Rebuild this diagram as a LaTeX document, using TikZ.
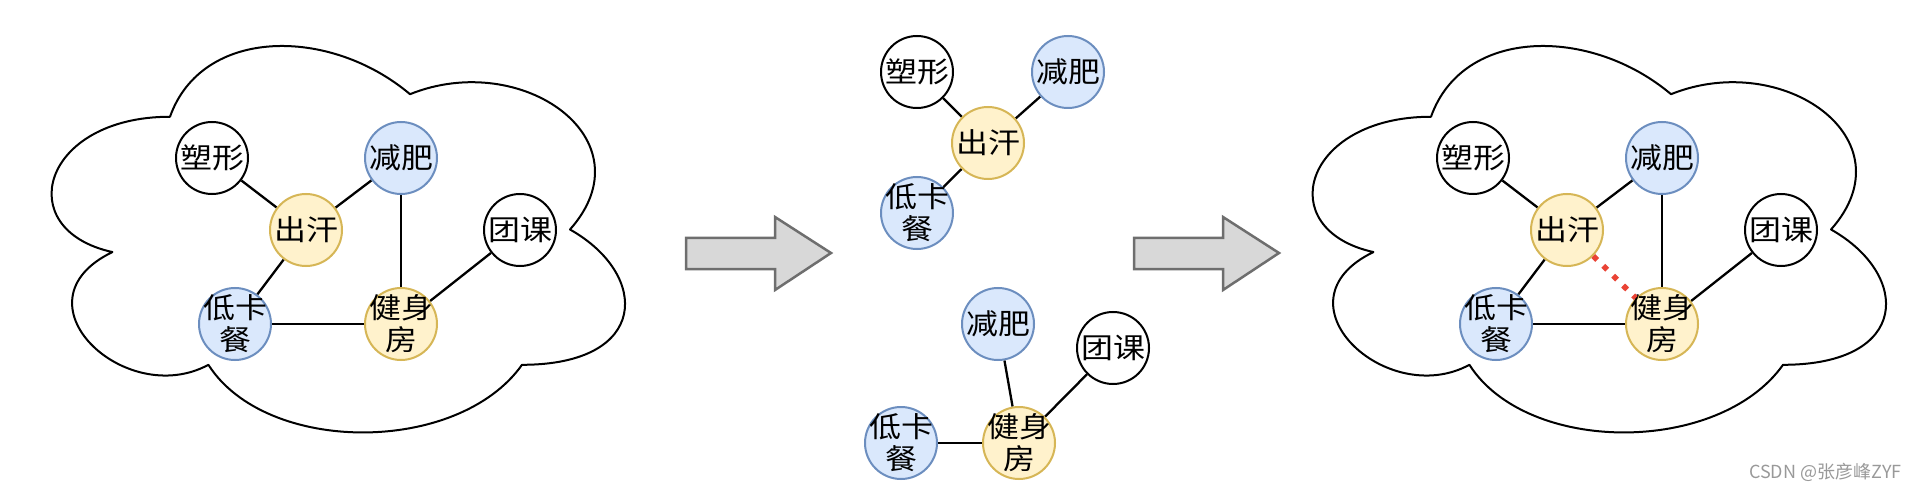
\documentclass[tikz,border=0pt]{standalone}
\usepackage{fontspec}
\setmainfont{Noto Sans CJK SC}
\newfontfamily\widecjk[FakeStretch=1.12]{Noto Sans CJK SC}
\definecolor{CLDblue}{HTML}{DAE8FC}
\definecolor{CLDblueline}{HTML}{6C8EBF}
\definecolor{CLDyellow}{HTML}{FFF2CC}
\definecolor{CLDyellowline}{HTML}{D6B656}
\definecolor{CLDgray}{HTML}{D8D8D8}
\definecolor{CLDgrayline}{HTML}{6E6E6E}
\definecolor{CLDred}{RGB}{234,67,53}
\usetikzlibrary{backgrounds}

\begin{document}
\begin{tikzpicture}[x=1pt, y=-1pt,
    vtx/.style={circle, draw, line width=2pt, fill=white, inner sep=0pt,
        minimum size=72pt},
    bluenode/.style={fill=CLDblue, draw=CLDblueline},
    yellownode/.style={fill=CLDyellow, draw=CLDyellowline},
    txt/.style={font=\widecjk\fontsize{28.5}{32}\selectfont, align=center},
    link/.style={line width=2.3pt},
    suggest/.style={line width=5.5pt, CLDred, dash pattern=on 5.5pt off 8.5pt},
    cloudline/.style={line width=2pt, fill=white, line join=round},
    bigarrow/.style={draw=CLDgrayline, fill=CLDgray, line width=2.5pt}]
    \useasboundingbox (0,0) rectangle (1920,489);

    % left and right clouds
    \foreach \p/\ox in {l/10, r/1271} {
        \begin{scope}[shift={(\ox,0)}]
            \node[vtx, label={[txt]center:塑形}] (\p Suxing) at (202,158) {};
            \node[vtx, bluenode, label={[txt]center:减肥}] (\p Jianfei) at (391,158) {};
            \node[vtx, yellownode, label={[txt]center:出汗}] (\p Chuhan) at (296,230) {};
            \node[vtx, label={[txt]center:团课}] (\p Tuanke) at (510,230) {};
            \node[vtx, bluenode, label={[txt]center:低卡\\餐}] (\p Dika) at (225,324) {};
            \node[vtx, yellownode, label={[txt]center:健身\\房}] (\p Jianshen) at (391,324) {};
            \begin{pgfonlayer}{background}
                \draw[cloudline, shift={(0,4)}, xscale=640, yscale=451]
                    (0.25,0.25) .. controls (0.05,0.25) and (0,0.5) .. (0.16,0.55)
                    .. controls (0,0.66) and (0.18,0.9) .. (0.31,0.8)
                    .. controls (0.4,1) and (0.7,1) .. (0.8,0.8)
                    .. controls (1,0.8) and (1,0.6) .. (0.875,0.5)
                    .. controls (1,0.3) and (0.8,0.1) .. (0.625,0.2)
                    .. controls (0.5,0.05) and (0.3,0.05) .. (0.25,0.25) -- cycle;
                \draw[link] (\p Suxing) -- (\p Chuhan);
                \draw[link] (\p Jianfei) -- (\p Chuhan);
                \draw[link] (\p Chuhan) -- (\p Dika);
                \draw[link] (\p Jianfei) -- (\p Jianshen);
                \draw[link] (\p Dika) -- (\p Jianshen);
                \draw[link] (\p Tuanke) -- (\p Jianshen);
            \end{pgfonlayer}
        \end{scope}
    }
    \draw[suggest] (rChuhan) -- (rJianshen);

    % split into two groups
    \node[vtx, label={[txt]center:塑形}] (mSuxing) at (917,72) {};
    \node[vtx, bluenode, label={[txt]center:减肥}] (mJianfei) at (1068,72) {};
    \node[vtx, yellownode, label={[txt]center:出汗}] (mChuhan) at (988,143) {};
    \node[vtx, bluenode, label={[txt]center:低卡\\餐}] (mDika) at (917,213) {};
    \node[vtx, bluenode, label={[txt]center:减肥}] (nJianfei) at (998,324) {};
    \node[vtx, label={[txt]center:团课}] (nTuanke) at (1113,348) {};
    \node[vtx, bluenode, label={[txt]center:低卡\\餐}] (nDika) at (901,443) {};
    \node[vtx, yellownode, label={[txt]center:健身\\房}] (nJianshen) at (1019,443) {};
    \begin{pgfonlayer}{background}
        \draw[link] (mSuxing) -- (mChuhan);
        \draw[link] (mJianfei) -- (mChuhan);
        \draw[link] (mChuhan) -- (mDika);
        \draw[link] (nJianfei) -- (nJianshen);
        \draw[link] (nTuanke) -- (nJianshen);
        \draw[link] (nDika) -- (nJianshen);
    \end{pgfonlayer}

    % block arrows
    \foreach \dx in {0,448}
        \draw[bigarrow, shift={(\dx,0)}] (686,238) -- (775,238) -- (775,217)
            -- (831,253) -- (775,290) -- (775,269) -- (686,269) -- cycle;

    \node[anchor=east, text=black!40, font=\fontsize{18}{20}\selectfont] (wmark) at (1905,472) {CSDN @张彦峰ZYF};
\end{tikzpicture}
\end{document}
